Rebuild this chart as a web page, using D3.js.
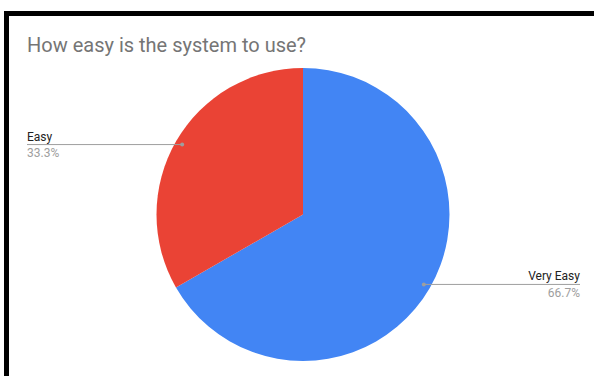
<!DOCTYPE html>
<html>
<head>
<meta charset="utf-8">
<script src="https://cdn.jsdelivr.net/npm/d3@7"></script>
<style>
  body { margin: 0; background: #fff; }
  svg { display: block; font-family: Roboto, "Noto Sans", sans-serif; }
</style>
</head>
<body>
<svg id="chart"></svg>
<script>
const categories = ["Very Easy", "Easy"];
const values = [66.7, 33.3];
const colors = ["#4285f4", "#ea4335"];
const chartTitle = "How easy is the system to use?";

const width = 594, height = 376;
const cx = 303, cy = 214.5, radius = 146.5;

const svg = d3.select("#chart")
    .attr("width", width)
    .attr("height", height);

// frame (black top and left edges)
svg.append("rect")
    .attr("x", 4).attr("y", 11)
    .attr("width", width).attr("height", 5)
    .attr("fill", "#000");
svg.append("rect")
    .attr("x", 4).attr("y", 11)
    .attr("width", 5).attr("height", height)
    .attr("fill", "#000");

svg.append("text")
    .attr("x", 27)
    .attr("y", 51.5)
    .attr("fill", "#757575")
    .style("font-size", "20px")
    .text(chartTitle);

const pieData = categories.map((c, i) => ({ name: c, value: values[i], color: colors[i] }));

const pie = d3.pie()
    .sort(null)
    .value(d => d.value);

const arc = d3.arc()
    .innerRadius(0)
    .outerRadius(radius);

const g = svg.append("g")
    .attr("transform", `translate(${cx},${cy})`);

const arcs = pie(pieData);

g.selectAll("path")
    .data(arcs)
    .enter().append("path")
    .attr("d", arc)
    .attr("fill", d => d.data.color);

// leader lines + labels
const dotRadius = radius * 0.953;
arcs.forEach(a => {
    const mid = (a.startAngle + a.endAngle) / 2;
    const px = cx + dotRadius * Math.sin(mid);
    const py = cy - dotRadius * Math.cos(mid);
    const right = Math.sin(mid) > 0;
    const lineEnd = right ? 580 : 27;

    svg.append("line")
        .attr("x1", px).attr("y1", py)
        .attr("x2", lineEnd).attr("y2", py)
        .attr("stroke", "#9e9e9e")
        .attr("stroke-width", 1);

    svg.append("circle")
        .attr("cx", px).attr("cy", py)
        .attr("r", 2)
        .attr("fill", "#9e9e9e");

    svg.append("text")
        .attr("x", lineEnd)
        .attr("y", py - 4)
        .attr("text-anchor", right ? "end" : "start")
        .attr("fill", "#222")
        .style("font-size", "12px")
        .text(a.data.name);

    svg.append("text")
        .attr("x", lineEnd)
        .attr("y", py + 12.5)
        .attr("text-anchor", right ? "end" : "start")
        .attr("fill", "#9e9e9e")
        .style("font-size", "12px")
        .text(a.data.value.toFixed(1) + "%");
});
</script>
</body>
</html>
